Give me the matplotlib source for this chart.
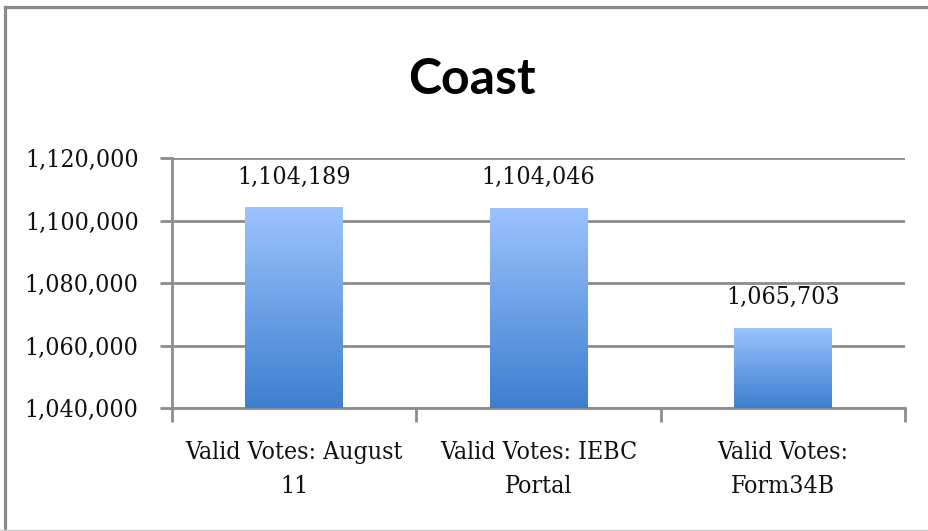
import numpy as np
import matplotlib.pyplot as plt
from matplotlib import font_manager
from matplotlib.lines import Line2D
from matplotlib.colors import LinearSegmentedColormap
from matplotlib.ticker import FuncFormatter
from matplotlib.transforms import ScaledTranslation

categories = ['Valid Votes: August\n11', 'Valid Votes: IEBC\nPortal', 'Valid Votes:\nForm34B']
values = [1104189, 1104046, 1065703]
yticks = [1040000, 1060000, 1080000, 1100000, 1120000]

GRID = '#8c8c8c'

# a narrow serif is closest to the original; use it when it is there
names = {(f.name, f.stretch) for f in font_manager.fontManager.ttflist}
if ('DejaVu Serif', 'condensed') in names or ('DejaVu Serif', 'semi-condensed') in names:
    TXT = dict(family='DejaVu Serif', stretch='condensed', fontsize=17.8)
else:
    TXT = dict(family='Liberation Serif', fontsize=20)


def draw_chart():
    fig = plt.figure(figsize=(9.29, 5.31), dpi=100)
    ax = fig.add_axes([172 / 929, 1 - 408 / 531, 733 / 929, 250 / 531])

    x = np.arange(len(values))
    bars = ax.bar(x, values, width=0.4, color='none', zorder=3)

    # vertical gradient in each bar, light at top, darker at bottom
    cmap = LinearSegmentedColormap.from_list('g', ['#3d7fcf', '#9cc3fe'])
    grad = np.linspace(0, 1, 256).reshape(-1, 1)
    for b in bars:
        x0, w, h = b.get_x(), b.get_width(), b.get_height()
        im = ax.imshow(grad, cmap=cmap, origin='lower', aspect='auto',
                       extent=[x0, x0 + w, yticks[0], h], zorder=3)
        im.set_clip_path(b)

    for xi, v in zip(x, values):
        ax.text(xi, v + 6000, f'{v:,}', ha='center', va='bottom',
                color='#111111', **TXT)

    ax.set_xlim(-0.5, len(values) - 0.5)
    ax.set_ylim(yticks[0], yticks[-1])
    ax.set_yticks(yticks)
    ax.yaxis.set_major_formatter(FuncFormatter(lambda v, p: f'{int(v):,}'))
    ax.set_xticks(x)
    ax.set_xticklabels(categories, linespacing=1.6, color='#111111', **TXT)
    ax.set_xticks(np.arange(len(values) + 1) - 0.5, minor=True)
    shift = ScaledTranslation(0, -4 / 100, fig.dpi_scale_trans)
    for lab in ax.get_yticklabels():
        lab.set_fontsize(TXT['fontsize'])
        lab.set_family(TXT['family'])
        lab.set_stretch(TXT.get('stretch', 'normal'))
        lab.set_color('#111111')
        lab.set_transform(lab.get_transform() + shift)

    ax.tick_params(axis='x', which='major', length=0, pad=24)
    ax.tick_params(axis='x', which='minor', length=10, width=2, color=GRID)
    ax.tick_params(axis='y', length=9, width=2, color=GRID, pad=15)
    ax.grid(axis='y', color=GRID, linewidth=2, zorder=1)
    ax.set_axisbelow(True)
    for s in ['top', 'right']:
        ax.spines[s].set_visible(False)
    for s in ['left', 'bottom']:
        ax.spines[s].set_color(GRID)
        ax.spines[s].set_linewidth(2)

    fig.text(472 / 929, 1 - 80 / 531, 'Coast', ha='center', va='center',
             fontsize=36, fontweight='bold',
             family=['Lato', 'Liberation Sans', 'DejaVu Sans'])

    # chart frame
    fig.add_artist(Line2D([5.5 / 929, 1.01], [1 - 6.5 / 531] * 2, transform=fig.transFigure,
                          color='#8a8a8a', linewidth=2.3))
    fig.add_artist(Line2D([5.5 / 929] * 2, [1 - 6.5 / 531, 0], transform=fig.transFigure,
                          color='#8a8a8a', linewidth=2.3))
    fig.add_artist(Line2D([0, 1], [1 - 530 / 531] * 2, transform=fig.transFigure,
                          color='#cccccc', linewidth=1))

    fig.savefig('out.png', dpi=100)
    plt.close()


if __name__ == '__main__':
    draw_chart()
